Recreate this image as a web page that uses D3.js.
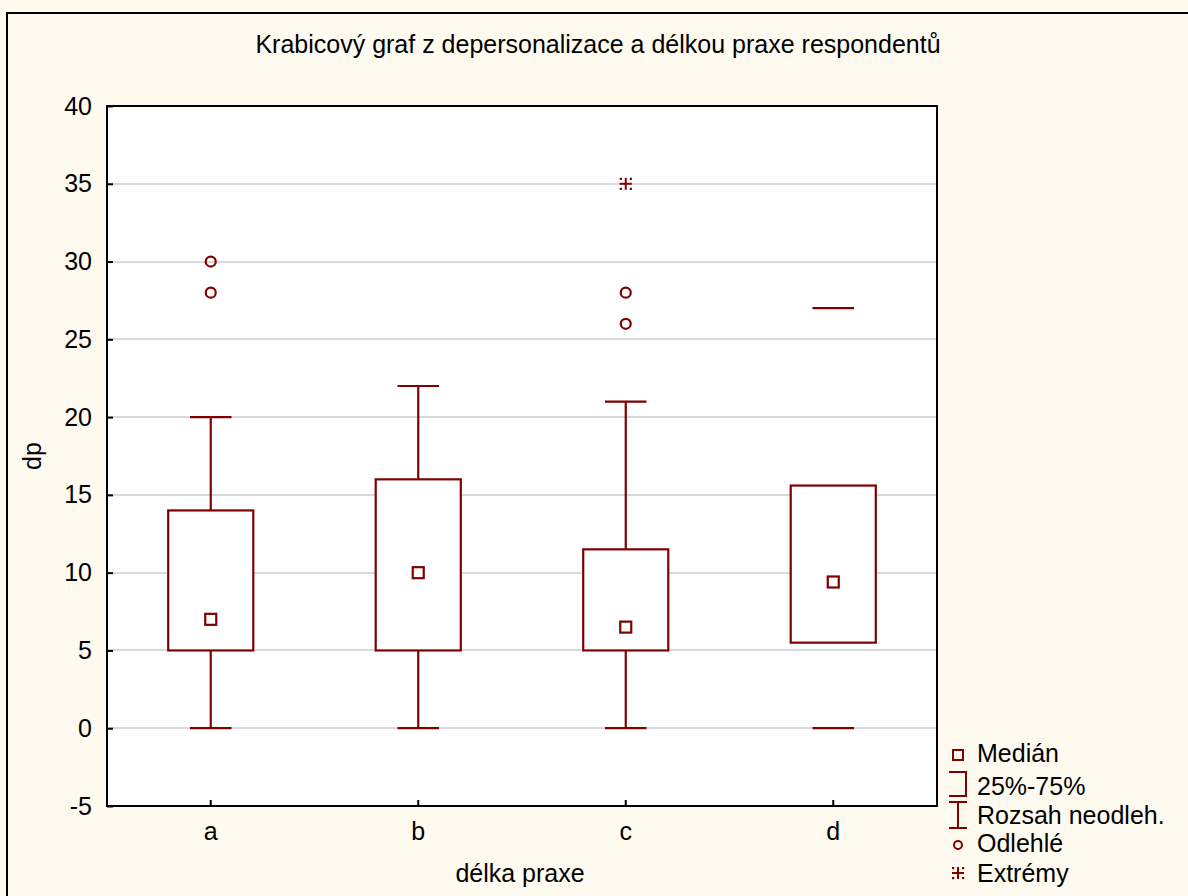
<!DOCTYPE html>
<html><head><meta charset="utf-8">
<script src="https://cdn.jsdelivr.net/npm/d3@7"></script>
<style>body{margin:0;background:#fffaf0;}svg{display:block;font-family:"Liberation Sans",Arial,sans-serif;}</style>
</head><body>
<svg id="c" width="1188" height="896"></svg>
<script>
const categories = ["a","b","c","d"];
const whiskerLow = [0,0,0,0];
const q1 = [5,5,5,5.5];
const medians = [7,10,6.5,9.4];
const q3 = [14,16,11.5,15.6];
const whiskerHigh = [20,22,21,27];
const drawStem = [true,true,true,false];
const outliers = [{cat:"a",v:30},{cat:"a",v:28},{cat:"c",v:28},{cat:"c",v:26}];
const extremes = [{cat:"c",v:35}];
const yTicks = [-5,0,5,10,15,20,25,30,35,40];
const legendLabels = ["Medián","25%-75%","Rozsah neodleh.","Odlehlé","Extrémy"];

const C = "#800000";
const FS = 25;
const svg = d3.select("#c");
svg.append("rect").attr("x",7).attr("y",13).attr("width",1200).attr("height",900)
  .attr("fill","#fffaf0").attr("stroke","#000").attr("stroke-width",2);

const L=107,R=937,T=106,B=806;
const x = d3.scaleBand().domain(categories).range([L,R]);
const y = d3.scaleLinear().domain([-5,40]).range([B,T]);

svg.append("rect").attr("x",L).attr("y",T).attr("width",R-L).attr("height",B-T).attr("fill","#fff");
// grid
svg.append("g").selectAll("line").data(yTicks.filter(t=>t>-5&&t<40)).join("line")
  .attr("x1",L).attr("x2",R).attr("y1",d=>Math.round(y(d))).attr("y2",d=>Math.round(y(d)))
  .attr("stroke","#d9d9d9").attr("stroke-width",2);

const yAxis = d3.axisLeft(y).tickValues(yTicks).tickFormat(d=>String(d)).tickSize(-6).tickPadding(15);
const gy = svg.append("g").attr("transform",`translate(${L},0)`).call(yAxis);
gy.attr("font-size",null).attr("font-family",null);
gy.select(".domain").remove();
gy.selectAll("text").style("font-size",FS+"px").attr("fill","#000");
gy.selectAll("line").attr("stroke","#000").attr("stroke-width",2);

const xAxis = d3.axisBottom(x).tickSize(-6).tickPadding(16);
const gx = svg.append("g").attr("transform",`translate(0,${B})`).call(xAxis);
gx.attr("font-size",null).attr("font-family",null);
gx.select(".domain").remove();
gx.selectAll("text").style("font-size",FS+"px").attr("fill","#000");
gx.selectAll("line").attr("stroke","#000").attr("stroke-width",2);

const bw = x.bandwidth();
const boxW = bw*0.41, capW = bw*0.2;
const g = svg.append("g").attr("fill","none").attr("stroke",C).attr("stroke-width",2.2);
categories.forEach((c,i)=>{
  const cx = x(c)+bw/2;
  if(drawStem[i]){
    g.append("line").attr("x1",cx).attr("x2",cx).attr("y1",y(whiskerLow[i])).attr("y2",y(q1[i]));
    g.append("line").attr("x1",cx).attr("x2",cx).attr("y1",y(q3[i])).attr("y2",y(whiskerHigh[i]));
  }
  [whiskerLow[i],whiskerHigh[i]].forEach(v=>{
    g.append("line").attr("x1",cx-capW/2).attr("x2",cx+capW/2).attr("y1",y(v)).attr("y2",y(v));
  });
  g.append("rect").attr("x",cx-boxW/2).attr("width",boxW).attr("y",y(q3[i])).attr("height",y(q1[i])-y(q3[i])).attr("fill","#fff");
  g.append("rect").attr("x",cx-5.5).attr("y",y(medians[i])-5.5).attr("width",11).attr("height",11);
});
outliers.forEach(o=>{
  g.append("circle").attr("cx",x(o.cat)+bw/2).attr("cy",y(o.v)).attr("r",5);
});
function extremeMark(sel,cx,cy){
  const sg = sel.append("g").attr("stroke",C).attr("stroke-width",2);
  sg.append("line").attr("x1",cx-6).attr("x2",cx+6).attr("y1",cy).attr("y2",cy);
  sg.append("line").attr("x1",cx).attr("x2",cx).attr("y1",cy-6).attr("y2",cy+6);
  [[-5,-5],[5,-5],[-5,5],[5,5]].forEach(([dx,dy])=>{
    sel.append("rect").attr("x",cx+dx-1).attr("y",cy+dy-1).attr("width",2.2).attr("height",2.2).attr("fill",C);
  });
}
extremes.forEach(o=>extremeMark(svg,x(o.cat)+bw/2,y(o.v)));

// frame
svg.append("rect").attr("x",L).attr("y",T).attr("width",R-L).attr("height",B-T)
  .attr("fill","none").attr("stroke","#000").attr("stroke-width",2);

svg.append("text").attr("x",598).attr("y",53).attr("text-anchor","middle").attr("font-size",FS).text("Krabicový graf z depersonalizace a délkou praxe respondentů");
svg.append("text").attr("transform","translate(41,456) rotate(-90)").attr("text-anchor","middle").attr("font-size",FS).text("dp");
svg.append("text").attr("x",520).attr("y",882).attr("text-anchor","middle").attr("font-size",FS).text("délka praxe");

// legend
const ly = [755,784,815,845,873];
const lx = 958;
const lg = svg.append("g").attr("fill","none").attr("stroke",C).attr("stroke-width",2);
lg.append("rect").attr("x",lx-5).attr("y",ly[0]-5).attr("width",10).attr("height",10);
lg.append("path").attr("d",`M${lx-9},${ly[1]-12}H${lx+8}V${ly[1]+12}H${lx-9}`);
lg.append("path").attr("d",`M${lx-9},${ly[2]-13}H${lx+9}M${lx},${ly[2]-13}V${ly[2]+13}M${lx-9},${ly[2]+13}H${lx+9}`);
lg.append("circle").attr("cx",lx).attr("cy",ly[3]).attr("r",4);
extremeMark(svg,lx,ly[4]);
const lbase = [762,795,824,852,882];
legendLabels.forEach((t,i)=>{
  svg.append("text").attr("x",977).attr("y",lbase[i]).attr("font-size",FS).attr("fill","#000").text(t);
});
</script>
</body></html>
